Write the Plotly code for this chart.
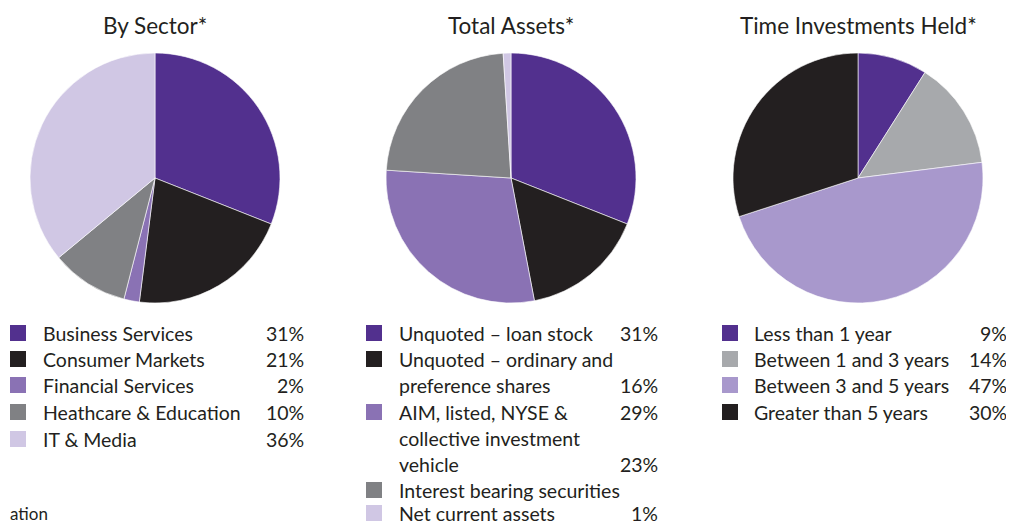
import plotly.graph_objects as go

# page body has an 8px margin: the figure is sized to fit the window
OFF = 8
W, H = 1014 - OFF, 524 - OFF

# ---------------- data ----------------
sector_labels = ["Business Services", "Consumer Markets", "Financial Services",
                 "Heathcare & Education", "IT & Media"]
sector_values = [31, 21, 2, 10, 36]
sector_colors = ["#52308E", "#231F20", "#8A72B4", "#808184", "#D0C7E4"]

asset_labels = ["Unquoted – loan stock", "Unquoted – ordinary and preference shares",
                "AIM, listed, NYSE & collective investment vehicle",
                "Interest bearing securities", "Net current assets"]
asset_values = [31, 16, 29, 23, 1]
asset_colors = ["#52308E", "#231F20", "#8A72B4", "#808184", "#D0C7E4"]

time_labels = ["Less than 1 year", "Between 1 and 3 years",
               "Between 3 and 5 years", "Greater than 5 years"]
time_values = [9, 14, 47, 30]
time_colors = ["#52308E", "#A7A9AC", "#A898CC", "#231F20"]

titles = ["By Sector*", "Total Assets*", "Time Investments Held*"]
footnote = "ation"

# ---------------- layout helpers ----------------
FONT = "Lato"
TXT = "#231F20"

def px(x):
    return max(x - OFF, 0) / W

def py(y):
    return 1 - (y - OFF) / H

fig = go.Figure()

pies = [
    (sector_labels, sector_values, sector_colors, 155, 178),
    (asset_labels, asset_values, asset_colors, 511, 178),
    (time_labels, time_values, time_colors, 858, 178),
]
R = 125
for labels, values, colors, cx, cy in pies:
    fig.add_trace(go.Pie(
        labels=labels, values=values, sort=False, direction="clockwise",
        rotation=0, marker=dict(colors=colors, line=dict(color="white", width=0.6)),
        textinfo="none", hoverinfo="label+percent", showlegend=False,
        domain=dict(x=[px(cx - R), px(cx + R)], y=[py(cy + R), py(cy - R)]),
    ))

annotations = []
shapes = []

title_x = [155, 511, 858]
for t, x in zip(titles, title_x):
    annotations.append(dict(text=t, x=px(x), y=py(25), xref="paper", yref="paper",
                            xanchor="center", yanchor="middle", showarrow=False,
                            font=dict(family=FONT, size=22.5, color=TXT)))

def square(x, y, color):
    shapes.append(dict(type="rect", xref="paper", yref="paper",
                       x0=px(x), x1=px(x + 16), y0=py(y + 8), y1=py(y - 8),
                       fillcolor=color, line=dict(width=0)))

def text(s, x, y, anchor="left", size=19.5):
    annotations.append(dict(text=s, x=px(x), y=py(y), xref="paper", yref="paper",
                            xanchor=anchor, yanchor="middle", showarrow=False,
                            font=dict(family=FONT, size=size, color=TXT)))

# Sector legend
rows = [333, 359, 385, 412, 439]
for i, lab in enumerate(sector_labels):
    square(10, rows[i], sector_colors[i])
    text(lab, 41, rows[i])
    text(f"{sector_values[i]}%", 306, rows[i], "right")

# Total assets legend (rows: square index, text, percentage index)
asset_rows = [
    (0, "Unquoted – loan stock", 0),
    (1, "Unquoted – ordinary and", None),
    (None, "preference shares", 1),
    (2, "AIM, listed, NYSE &", 2),
    (None, "collective investment", None),
    (None, "vehicle", 3),
    (3, "Interest bearing securities", None),
    (4, "Net current assets", 4),
]
arows = [333, 359, 385, 412, 438, 464, 490, 513]
for (sq, s, pi), y in zip(asset_rows, arows):
    if sq is not None:
        square(366, y, asset_colors[sq])
    text(s, 397, y)
    if pi is not None:
        text(f"{asset_values[pi]}%", 660, y, "right")

# Time legend
for i, lab in enumerate(time_labels):
    square(722, rows[i], time_colors[i])
    text(lab, 752, rows[i])
    text(f"{time_values[i]}%", 1009, rows[i], "right")

# cropped footnote
text(footnote, 0, 513, size=17)

fig.update_layout(
    width=W, height=H, margin=dict(l=0, r=0, t=0, b=0),
    paper_bgcolor="white", plot_bgcolor="white",
    annotations=annotations, shapes=shapes,
)

fig.write_html("out.html")
